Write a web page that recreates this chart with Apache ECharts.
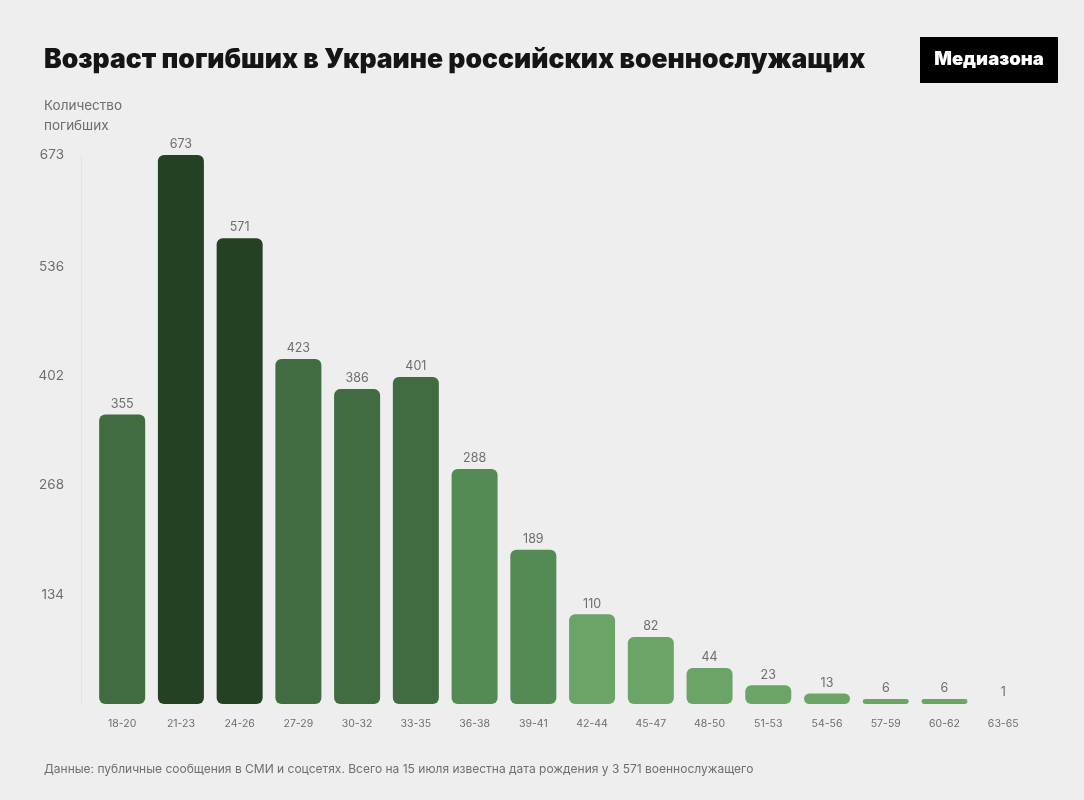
<!DOCTYPE html>
<html lang="ru">
<head>
<meta charset="utf-8">
<title>Возраст погибших</title>
<style>
  html, body { margin: 0; padding: 0; background: #eeeeee; }
  #chart { width: 1084px; height: 800px; }
</style>
<script src="https://cdn.jsdelivr.net/npm/echarts@6/dist/echarts.min.js"></script>
</head>
<body>
<div id="chart"></div>
<script>
// возрастные группы и число погибших
const ageGroups = ['18-20', '21-23', '24-26', '27-29', '30-32', '33-35', '36-38', '39-41',
  '42-44', '45-47', '48-50', '51-53', '54-56', '57-59', '60-62', '63-65'];
const deaths = [355, 673, 571, 423, 386, 401, 288, 189, 110, 82, 44, 23, 13, 6, 6, 1];
const yTicks = [134, 268, 402, 536, 673];

const titleText = 'Возраст погибших в Украине российских военнослужащих';
const yAxisName = 'Количество\nпогибших';
const logoText = 'Медиазона';
const footerText = 'Данные: публичные сообщения в СМИ и соцсетях. Всего на 15 июля известна дата рождения у 3 571 военнослужащего';

const FONT = 'Inter, "Noto Sans", sans-serif';
const GREY = '#6e6e6e';

// цвет столбца зависит от величины
function barColor(v) {
  if (v <= 1) return 'transparent'; // столбец в 1 человека на картинке не виден
  if (v >= 500) return '#254125';
  if (v >= 300) return '#416b40';
  if (v >= 150) return '#548a53';
  return '#6aa567';
}

const chart = echarts.init(document.getElementById('chart'));

chart.setOption({
  animation: false,
  backgroundColor: '#eeeeee',
  textStyle: { fontFamily: FONT },
  title: [
    {
      text: titleText, left: 44, top: 43, padding: 0,
      textStyle: { fontFamily: FONT, fontSize: 26.5, fontWeight: 900, color: '#151515', lineHeight: 34 }
    },
    {
      text: yAxisName, left: 44, top: 96, padding: 0,
      textStyle: { fontFamily: FONT, fontSize: 13.5, fontWeight: 400, color: GREY, lineHeight: 20 }
    },
    {
      text: footerText, left: 44, top: 763, padding: 0,
      textStyle: { fontFamily: FONT, fontSize: 12, fontWeight: 400, color: GREY }
    }
  ],
  graphic: [
    {
      type: 'group',
      left: 920,
      top: 37,
      children: [
        { type: 'rect', shape: { x: 0, y: 0, width: 138, height: 46 }, style: { fill: '#000000' } },
        {
          type: 'text', x: 69, y: 22.5,
          style: {
            text: logoText, fill: '#ffffff', align: 'center', verticalAlign: 'middle',
            font: '900 18.5px ' + FONT
          }
        }
      ]
    }
  ],
  grid: { left: 92.8, right: 51.4, top: 155, bottom: 96 },
  xAxis: {
    type: 'category',
    data: ageGroups,
    axisLine: { show: false },
    axisTick: { show: false },
    axisLabel: { color: GREY, fontSize: 10.5, margin: 14, interval: 0 }
  },
  yAxis: {
    type: 'value',
    min: 0,
    max: 673,
    offset: 11.8,
    axisLine: { show: true, lineStyle: { color: '#e4e4e4', width: 1 } },
    axisTick: { show: false },
    splitLine: { show: false },
    axisLabel: { color: GREY, fontSize: 13.5, margin: 17, customValues: yTicks }
  },
  series: [{
    type: 'bar',
    barWidth: 46,
    data: deaths.map(v => ({ value: v, itemStyle: { color: barColor(v) } })),
    itemStyle: { borderRadius: 6 },
    label: { show: true, position: 'top', distance: 4, color: GREY, fontSize: 12.5 }
  }]
});
</script>
</body>
</html>
